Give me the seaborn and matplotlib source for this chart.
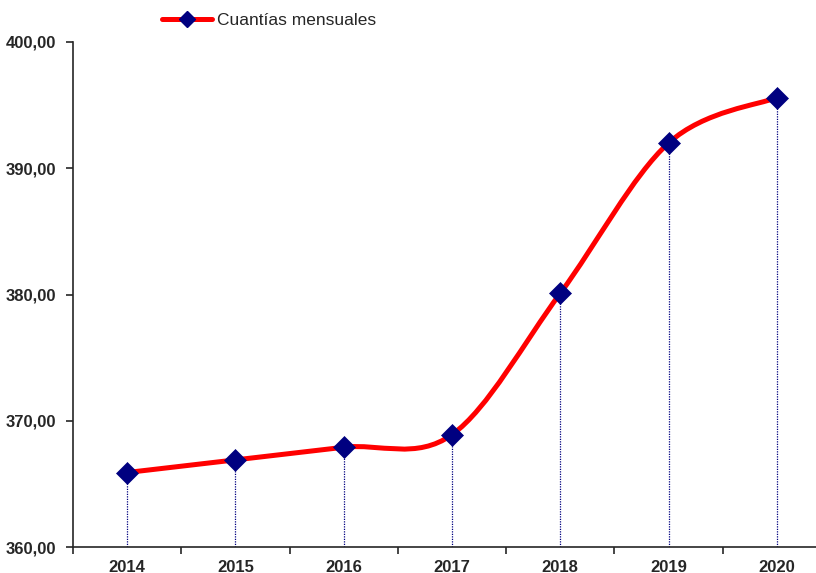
import matplotlib
matplotlib.use("Agg")
import matplotlib.pyplot as plt
from matplotlib.path import Path
from matplotlib.patches import PathPatch
from matplotlib.lines import Line2D
from matplotlib.ticker import FixedLocator, FuncFormatter
import seaborn as sns
import pandas as pd

# data
years = ["2014", "2015", "2016", "2017", "2018", "2019", "2020"]
cuantias = [365.90, 366.90, 367.90, 368.90, 380.10, 392.00, 395.60]
serie = "Cuantías mensuales"

df = pd.DataFrame({"year": years, "valor": cuantias})
df["pos"] = range(len(df))

sns.set_style("ticks")
plt.rcParams["font.family"] = ["Liberation Sans", "DejaVu Sans"]

fig = plt.figure(figsize=(8.16, 5.73), dpi=100)
ax = fig.add_axes([73 / 816, 26 / 573, 758 / 816, 505 / 573])

# dotted drop lines
ax.vlines(df["pos"], 360, df["valor"], colors="#000080", linestyles=(0, (1, 1)), lw=0.9, zorder=1)

# smoothed line (excel-like bezier through the points)
x = list(df["pos"])
y = list(df["valor"])
verts = [(x[0], y[0])]
codes = [Path.MOVETO]
n = len(x)
for i in range(n - 1):
    x0, y0 = (x[i - 1], y[i - 1]) if i > 0 else (x[i], y[i])
    x3, y3 = (x[i + 2], y[i + 2]) if i + 2 < n else (x[i + 1], y[i + 1])
    c1 = (x[i] + (x[i + 1] - x0) / 6, y[i] + (y[i + 1] - y0) / 6)
    c2 = (x[i + 1] - (x3 - x[i]) / 6, y[i + 1] - (y3 - y[i]) / 6)
    verts += [c1, c2, (x[i + 1], y[i + 1])]
    codes += [Path.CURVE4] * 3
ax.add_patch(PathPatch(Path(verts, codes), fill=False, edgecolor="red", lw=3.6,
                       capstyle="round", joinstyle="round", zorder=2))

# markers
sns.scatterplot(data=df, x="pos", y="valor", marker="D", s=125, color="#000080",
                edgecolor="#000080", linewidth=0.5, zorder=3, ax=ax, legend=False)

ax.set_xlim(-0.5, len(years) - 0.5)
ax.set_ylim(360, 400)
ax.yaxis.set_major_locator(FixedLocator([360, 370, 380, 390, 400]))
ax.yaxis.set_major_formatter(FuncFormatter(lambda v, p: f"{v:.2f}".replace(".", ",")))
ax.set_xticks(df["pos"])
ax.set_xticklabels(years)
ax.xaxis.set_minor_locator(FixedLocator([i + 0.5 for i in range(-1, len(years))]))
ax.tick_params(axis="x", which="major", length=0, pad=9, labelsize=12)
ax.tick_params(axis="x", which="minor", length=5, width=1.2, direction="out")
ax.tick_params(axis="y", length=5, width=1.2, direction="out", pad=7, labelsize=12)
for lab in ax.get_xticklabels() + ax.get_yticklabels():
    lab.set_fontweight("bold")
ax.set_xlabel("")
ax.set_ylabel("")
sns.despine(ax=ax)
for s in ["left", "bottom"]:
    ax.spines[s].set_linewidth(1.2)

handle = Line2D([], [], color="red", lw=3.6, marker="D", markersize=8,
                markerfacecolor="#000080", markeredgecolor="#000080")
fig.legend([handle], [serie], loc="center left", bbox_to_anchor=(162 / 816, 1 - 20 / 573),
           frameon=False, fontsize=12.5, handlelength=2.9, handletextpad=0.25,
           borderpad=0, borderaxespad=0)

fig.savefig("out.png", dpi=100)
